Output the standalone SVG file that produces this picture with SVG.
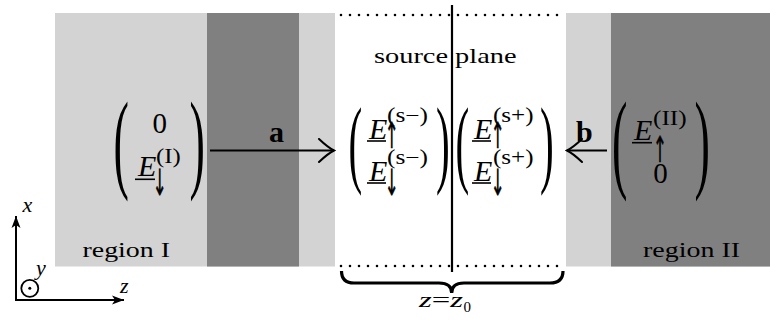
<svg xmlns="http://www.w3.org/2000/svg" width="770" height="320" viewBox="0 0 770 320" font-family="'Liberation Serif', 'Times New Roman', Tinos, serif">
<style>
.lt{fill:#d3d3d3}
.dk{fill:#808080}
text{font-family:"Liberation Serif","Times New Roman",Tinos,"DejaVu Serif",serif;fill:#000}
.it{font-style:italic}
.bf{font-weight:bold;font-size:30px}
.txt{font-size:21px}
.E{font-size:30px;font-style:italic}
.num{font-size:29px;text-anchor:middle}
.sup{font-size:20px}
.arr{font-size:20px;text-anchor:middle;font-family:"DejaVu Sans","DejaVu Serif",sans-serif;fill:#000;stroke:#000;stroke-width:0.28}
.par{font-size:110px}
.parm{font-size:98px}
.ax{font-size:22px;font-style:italic}
.ul{stroke:#000;stroke-width:1.6}
.conn{stroke:#000;stroke-width:2;fill:none}
.dots{stroke:#000;stroke-width:2.6;stroke-linecap:round;stroke-dasharray:0 9;fill:none}
</style>
<defs>
<marker id="to" markerUnits="userSpaceOnUse" markerWidth="20" markerHeight="26" refX="0" refY="0" viewBox="-17 -13 20 26" orient="auto">
<path d="M-15,-11.5 Q-6,-3 0,0 Q-6,3 -15,11.5" fill="none" stroke="#000" stroke-width="2" stroke-linecap="round"/>
</marker>
<marker id="latex" markerUnits="userSpaceOnUse" markerWidth="14" markerHeight="12" refX="0" refY="0" viewBox="-13 -6 14 12" orient="auto">
<path d="M0,0 L-12,-4.5 L-9,0 L-12,4.5 Z" fill="#000"/>
</marker>
</defs>
<rect x="0" y="0" width="770" height="320" fill="#fff"/>
<g id="regionI">
<rect class="lt" x="55" y="13" width="280" height="253.5"/>
<rect class="dk" x="207" y="13" width="92" height="253.5"/>
<text class="txt" x="82.5" y="257" textLength="87.5" lengthAdjust="spacingAndGlyphs">region I</text>
</g>
<g id="regionII">
<rect class="lt" x="566" y="13" width="204" height="253.5"/>
<rect class="dk" x="611" y="13" width="159" height="253.5"/>
<text class="txt" x="643" y="257" textLength="97" lengthAdjust="spacingAndGlyphs">region II</text>
</g>
<g id="sourcePlane">
<path class="dots" d="M341,15 H563 M341,266 H563"/>
<line x1="452" y1="5" x2="452" y2="272" stroke="#000" stroke-width="2.2"/>
<text class="txt" x="374" y="62.7" textLength="142.5" lengthAdjust="spacingAndGlyphs">source plane</text>
<path d="M341.5,271 Q341.5,283 354,283 L439,283 Q451.7,283 451.7,293 Q451.7,283 464,283 L550,283 Q563,283 563,271" fill="none" stroke="#000" stroke-width="3.2"/>
<text x="419" y="306.7" font-size="22" textLength="44" lengthAdjust="spacingAndGlyphs"><tspan class="it">z</tspan>=<tspan class="it">z</tspan></text>
<text x="463.5" y="311.5" font-size="15">0</text>
</g>
<g id="vecI">
<text class="par" transform="translate(113.5,177.5) scale(0.42,1)">(</text>
<text class="par" transform="translate(189.5,177.5) scale(0.42,1)">)</text>
<text class="num" x="159.7" y="133.3">0</text>
<text class="E" x="138" y="176">E</text>
<line class="ul" x1="135" y1="179.3" x2="155" y2="179.3"/>
<text class="sup" x="156" y="163.3" textLength="24.7" lengthAdjust="spacingAndGlyphs">(I)</text>
<text class="arr" transform="translate(159.5,195) scale(0.85,1.8)">↓</text>
</g>
<g id="vecS">
<text class="parm" transform="translate(348.5,174.6) scale(0.42,1)">(</text>
<text class="parm" transform="translate(436,174.6) scale(0.42,1)">)</text>
<text class="parm" transform="translate(455.5,174.6) scale(0.42,1)">(</text>
<text class="parm" transform="translate(540,174.6) scale(0.42,1)">)</text>
<text class="E" x="369" y="138.5">E</text>
<line class="ul" x1="367" y1="141" x2="386" y2="141"/>
<text class="sup" x="387" y="121.5" textLength="41" lengthAdjust="spacingAndGlyphs">(s−)</text>
<text class="arr" transform="translate(391.5,148) scale(0.85,1.8)">↑</text>
<text class="E" x="369" y="180.5">E</text>
<line class="ul" x1="367" y1="183" x2="386" y2="183"/>
<text class="sup" x="387" y="163.7" textLength="41" lengthAdjust="spacingAndGlyphs">(s−)</text>
<text class="arr" transform="translate(391.5,195) scale(0.85,1.8)">↓</text>
<text class="E" x="474" y="138.5">E</text>
<line class="ul" x1="472" y1="141" x2="491" y2="141"/>
<text class="sup" x="493" y="121.5" textLength="40.5" lengthAdjust="spacingAndGlyphs">(s+)</text>
<text class="arr" transform="translate(497.5,148) scale(0.85,1.8)">↑</text>
<text class="E" x="474" y="180.5">E</text>
<line class="ul" x1="472" y1="183" x2="491" y2="183"/>
<text class="sup" x="493" y="163.7" textLength="40.5" lengthAdjust="spacingAndGlyphs">(s+)</text>
<text class="arr" transform="translate(497.5,195) scale(0.85,1.8)">↓</text>
</g>
<g id="vecII">
<text class="par" transform="translate(612,177.5) scale(0.42,1)">(</text>
<text class="par" transform="translate(694.5,177.5) scale(0.42,1)">)</text>
<text class="E" x="634" y="140">E</text>
<line class="ul" x1="632" y1="142.7" x2="652" y2="142.7"/>
<text class="sup" x="653" y="125" textLength="33.7" lengthAdjust="spacingAndGlyphs">(II)</text>
<text class="arr" transform="translate(659.8,161.7) scale(0.85,1.8)">↑</text>
<text class="num" x="660.5" y="183.3">0</text>
</g>
<g id="axes">
<line class="conn" x1="16" y1="301" x2="16" y2="216" marker-end="url(#latex)"/>
<line class="conn" x1="15" y1="300" x2="124" y2="300" marker-end="url(#latex)"/>
<circle cx="29.8" cy="288.3" r="8.5" fill="none" stroke="#000" stroke-width="1.8"/>
<circle cx="29.8" cy="288.3" r="1.5" fill="#000"/>
<text class="ax" x="22.5" y="211.5">x</text>
<text class="ax" x="36" y="274.5">y</text>
<text class="ax" x="120" y="293.3">z</text>
</g>
<g id="connectors">
<line class="conn" x1="210" y1="150.5" x2="334" y2="150.5" marker-end="url(#to)"/>
<text class="bf" x="269" y="141.7">a</text>
<line class="conn" x1="607" y1="150.5" x2="567" y2="150.5" marker-end="url(#to)"/>
<text class="bf" x="576" y="141.7">b</text>
</g>
</svg>
